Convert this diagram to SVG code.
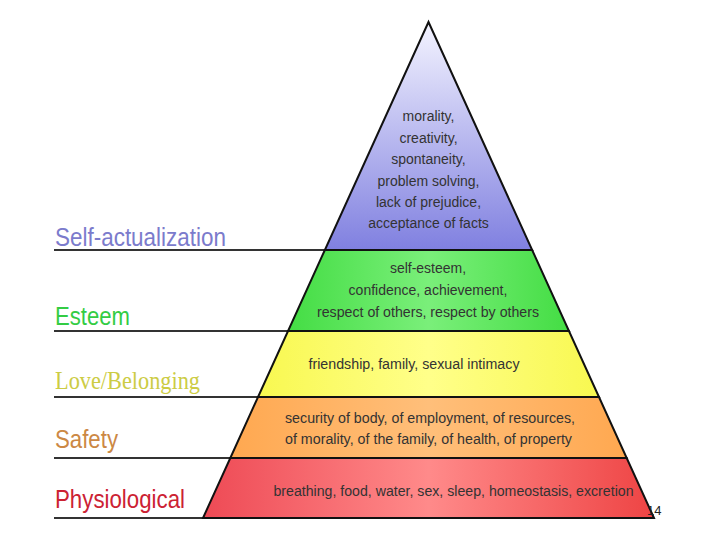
<svg xmlns="http://www.w3.org/2000/svg" width="720" height="540" viewBox="0 0 720 540">
<style>
.band{stroke:#111;stroke-width:2;stroke-linejoin:miter}
.t{font-family:"Liberation Sans",Arial,sans-serif;font-size:14px;fill:#333;text-anchor:middle}
.lbl{font-family:"Liberation Sans",Arial,sans-serif;font-size:26px}
.rule{stroke:#333;stroke-width:2}
</style>
<defs>
<linearGradient id="gBlue" x1="0" y1="0" x2="0" y2="1">
<stop offset="0" stop-color="#f4f4ff"/>
<stop offset="1" stop-color="#8080e0"/>
</linearGradient>
<linearGradient id="gGreen" x1="0" y1="0" x2="1" y2="0">
<stop offset="0" stop-color="#44dd44"/>
<stop offset="0.5" stop-color="#7aef7a"/>
<stop offset="1" stop-color="#44dd44"/>
</linearGradient>
<linearGradient id="gYellow" x1="0" y1="0" x2="1" y2="0">
<stop offset="0" stop-color="#f8f850"/>
<stop offset="0.5" stop-color="#ffff8a"/>
<stop offset="1" stop-color="#f8f850"/>
</linearGradient>
<linearGradient id="gOrange" x1="0" y1="0" x2="1" y2="0">
<stop offset="0" stop-color="#ffa850"/>
<stop offset="0.5" stop-color="#ffbf7a"/>
<stop offset="1" stop-color="#ffa850"/>
</linearGradient>
<linearGradient id="gRed" x1="0" y1="0" x2="1" y2="0">
<stop offset="0" stop-color="#ee4a55"/>
<stop offset="0.5" stop-color="#ff8a8a"/>
<stop offset="1" stop-color="#ee4444"/>
</linearGradient>
</defs>
<rect width="720" height="540" fill="#ffffff"/>

<g id="connectors">
<line class="rule" x1="54" y1="250" x2="325" y2="250"/>
<line class="rule" x1="54" y1="331" x2="288" y2="331"/>
<line class="rule" x1="54" y1="397" x2="258" y2="397"/>
<line class="rule" x1="54" y1="458" x2="230" y2="458"/>
<line class="rule" x1="54" y1="518" x2="203" y2="518"/>
</g>

<g id="self-actualization">
<polygon class="band" fill="url(#gBlue)" points="428.5,22 532.15,250 324.85,250"/>
<text class="t" x="428.5" y="121">morality,</text>
<text class="t" x="428.5" y="142.5">creativity,</text>
<text class="t" x="428.5" y="164">spontaneity,</text>
<text class="t" x="428.5" y="185.5">problem solving,</text>
<text class="t" x="428.5" y="207">lack of prejudice,</text>
<text class="t" x="428.5" y="228">acceptance of facts</text>
<text class="lbl" x="55" y="246" fill="#7b7bcc" textLength="171" lengthAdjust="spacingAndGlyphs">Self-actualization</text>
</g>

<g id="esteem">
<polygon class="band" fill="url(#gGreen)" points="324.85,250 532.15,250 568.97,331 288.03,331"/>
<text class="t" x="428" y="273">self-esteem,</text>
<text class="t" x="428" y="295">confidence, achievement,</text>
<text class="t" x="428" y="317" textLength="222" lengthAdjust="spacingAndGlyphs">respect of others, respect by others</text>
<text class="lbl" x="55" y="325" fill="#33cc44" textLength="75" lengthAdjust="spacingAndGlyphs">Esteem</text>
</g>

<g id="love-belonging">
<polygon class="band" fill="url(#gYellow)" points="288.03,331 568.97,331 599,397 258,397"/>
<text class="t" x="414" y="369" textLength="211" lengthAdjust="spacingAndGlyphs">friendship, family, sexual intimacy</text>
<text x="55" y="389" font-family="'Liberation Serif','Times New Roman',serif" font-size="26" fill="#cccc44" textLength="145" lengthAdjust="spacingAndGlyphs">Love/Belonging</text>
</g>

<g id="safety">
<polygon class="band" fill="url(#gOrange)" points="258,397 599,397 626.7,458 230.3,458"/>
<text class="t" x="430" y="423" textLength="290" lengthAdjust="spacingAndGlyphs">security of body, of employment, of resources,</text>
<text class="t" x="428.5" y="444" textLength="287" lengthAdjust="spacingAndGlyphs">of morality, of the family, of health, of property</text>
<text class="lbl" x="55" y="448" fill="#cc8844" textLength="63" lengthAdjust="spacingAndGlyphs">Safety</text>
</g>

<g id="physiological">
<polygon class="band" fill="url(#gRed)" points="230.3,458 626.7,458 654,518 203,518"/>
<text class="t" x="453.5" y="496" textLength="360" lengthAdjust="spacingAndGlyphs">breathing, food, water, sex, sleep, homeostasis, excretion</text>
<text class="lbl" x="55" y="508" fill="#cc2233" textLength="130" lengthAdjust="spacingAndGlyphs">Physiological</text>
</g>

<text x="647" y="515" font-family="'Liberation Sans',Arial,sans-serif" font-size="13" fill="#222">14</text>
</svg>
